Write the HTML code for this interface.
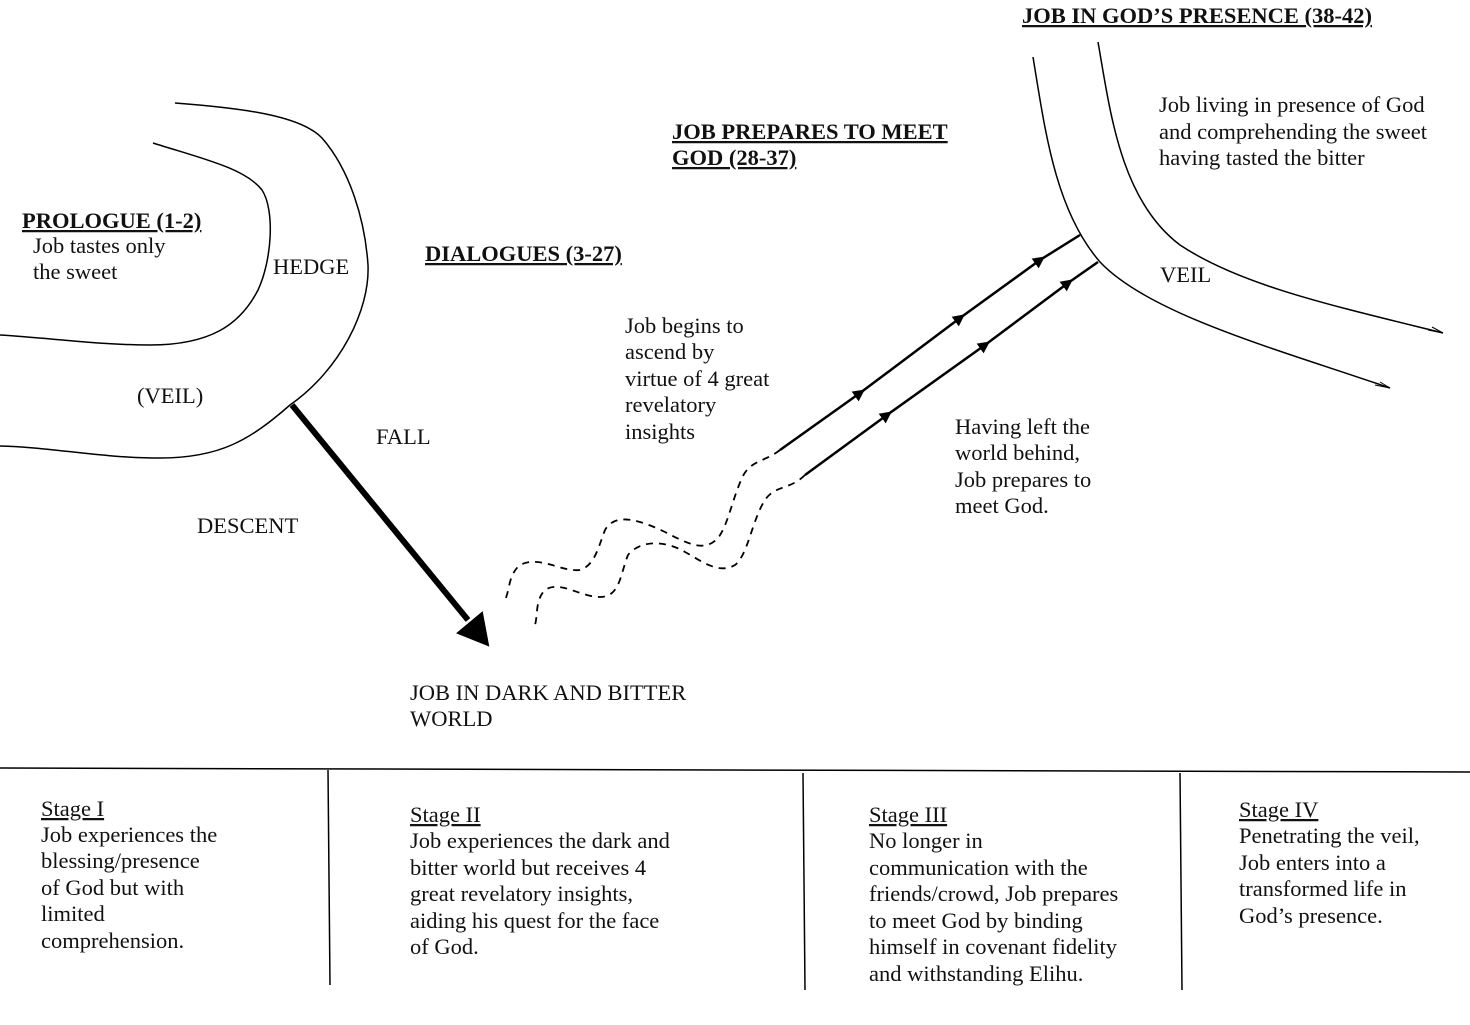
<!DOCTYPE html>
<html><head><meta charset="utf-8"><style>
html,body{margin:0;padding:0;background:#fff}
svg{display:block}
text{font-family:"Liberation Serif",serif;font-size:22.5px;fill:#111}
.b{font-weight:bold;text-decoration:underline}
</style></head><body>
<svg width="1470" height="1025" viewBox="0 0 1470 1025" xmlns="http://www.w3.org/2000/svg">
<defs>
<marker id="ah" viewBox="0 0 10 10" refX="5" refY="5" markerWidth="12" markerHeight="12" markerUnits="userSpaceOnUse" orient="auto"><path d="M0,0 L10,5 L0,10 z" fill="#000"/></marker>
</defs>
<g fill="none" stroke="#000" stroke-width="1.5">
<!-- hedge -->
<path d="M153,143 C200,158 245,168 262,190 C275,210 272,260 258,290 C240,325 210,345 150,345 C100,345 50,338 0,335"/>
<path d="M175,103 C240,108 300,115 322,138 C350,170 365,220 368,265 C370,310 340,370 290,405 C250,440 220,458 160,458 C100,458 50,447 0,446"/>
<!-- veil -->
<path d="M1033,57 C1045,130 1055,210 1100,262 C1150,315 1280,350 1390,388"/>
<path d="M1098,42 C1110,110 1120,200 1180,245 C1240,285 1330,305 1443,333"/>
<path d="M1380,382 L1390,388 L1375,385" stroke-width="1"/>
<path d="M1432,327 L1443,333 L1428,330" stroke-width="1"/>
<!-- arrows -->
<g stroke-width="2.5">
<path d="M780,450 L860,393" marker-end="url(#ah)"/><path d="M860,393 L960,318" marker-end="url(#ah)"/><path d="M960,318 L1040,260" marker-end="url(#ah)"/><path d="M1040,260 L1080,235"/>
<path d="M805,475 L887,415" marker-end="url(#ah)"/><path d="M887,415 L985,345" marker-end="url(#ah)"/><path d="M985,345 L1068,283" marker-end="url(#ah)"/><path d="M1068,283 L1098,262"/>
</g>
<!-- dashed -->
<g stroke-dasharray="7,6" stroke-width="1.8">
<path d="M780,450 C765,462 750,460 742,478 C732,500 728,525 718,538 C705,552 690,545 665,532 C640,520 615,512 605,530 C598,548 595,565 580,570 C560,572 540,555 520,565 C508,575 510,590 505,600"/>
<path d="M805,475 C790,490 775,485 765,500 C752,520 748,555 735,565 C718,575 700,560 685,552 C665,540 640,540 628,555 C620,575 620,597 600,597 C580,597 560,580 545,590 C535,600 538,615 535,625"/>
</g>
<!-- bottom lines -->
<path d="M0,768 L1470,772"/>
<path d="M328,770 L330,985"/><path d="M803,773 L805,990"/><path d="M1180,773 L1182,990"/>
</g>
<!-- fall -->
<line x1="292" y1="405" x2="468" y2="620" stroke="#000" stroke-width="6"/>
<path d="M458,633 L488,645 L482,613 z" fill="#000" stroke="#000" stroke-width="2"/>

<text x="22" y="228" class="b">PROLOGUE (1-2)</text>
<text x="33" y="253">Job tastes only</text>
<text x="33" y="279">the sweet</text>
<text x="273" y="274">HEDGE</text>
<text x="137" y="403">(VEIL)</text>
<text x="376" y="444">FALL</text>
<text x="197" y="533">DESCENT</text>
<text x="425" y="261" class="b">DIALOGUES (3-27)</text>
<text x="672" y="139" class="b">JOB PREPARES TO MEET</text>
<text x="672" y="165" class="b">GOD (28-37)</text>
<text x="1022" y="23" class="b">JOB IN GOD’S PRESENCE (38-42)</text>
<text x="1159" y="112">Job living in presence of God</text>
<text x="1159" y="139">and comprehending the sweet</text>
<text x="1159" y="165">having tasted the bitter</text>
<text x="1160" y="282">VEIL</text>
<text x="625" y="333">Job begins to</text>
<text x="625" y="359">ascend by</text>
<text x="625" y="386">virtue of 4 great</text>
<text x="625" y="412">revelatory</text>
<text x="625" y="439">insights</text>
<text x="955" y="434">Having left the</text>
<text x="955" y="460">world behind,</text>
<text x="955" y="487">Job prepares to</text>
<text x="955" y="513">meet God.</text>
<text x="410" y="700">JOB IN DARK AND BITTER</text>
<text x="410" y="726">WORLD</text>

<text x="41" y="816" style="text-decoration:underline">Stage I</text>
<text x="41" y="842">Job experiences the</text>
<text x="41" y="868">blessing/presence</text>
<text x="41" y="895">of God but with</text>
<text x="41" y="921">limited</text>
<text x="41" y="948">comprehension.</text>
<text x="410" y="822" style="text-decoration:underline">Stage II</text>
<text x="410" y="848">Job experiences the dark and</text>
<text x="410" y="875">bitter world but receives 4</text>
<text x="410" y="901">great revelatory insights,</text>
<text x="410" y="928">aiding his quest for the face</text>
<text x="410" y="954">of God.</text>
<text x="869" y="822" style="text-decoration:underline">Stage III</text>
<text x="869" y="848">No longer in</text>
<text x="869" y="875">communication with the</text>
<text x="869" y="901">friends/crowd, Job prepares</text>
<text x="869" y="928">to meet God by binding</text>
<text x="869" y="954">himself in covenant fidelity</text>
<text x="869" y="981">and withstanding Elihu.</text>
<text x="1239" y="817" style="text-decoration:underline">Stage IV</text>
<text x="1239" y="843">Penetrating the veil,</text>
<text x="1239" y="870">Job enters into a</text>
<text x="1239" y="896">transformed life in</text>
<text x="1239" y="923">God’s presence.</text>
</svg>
</body></html>
